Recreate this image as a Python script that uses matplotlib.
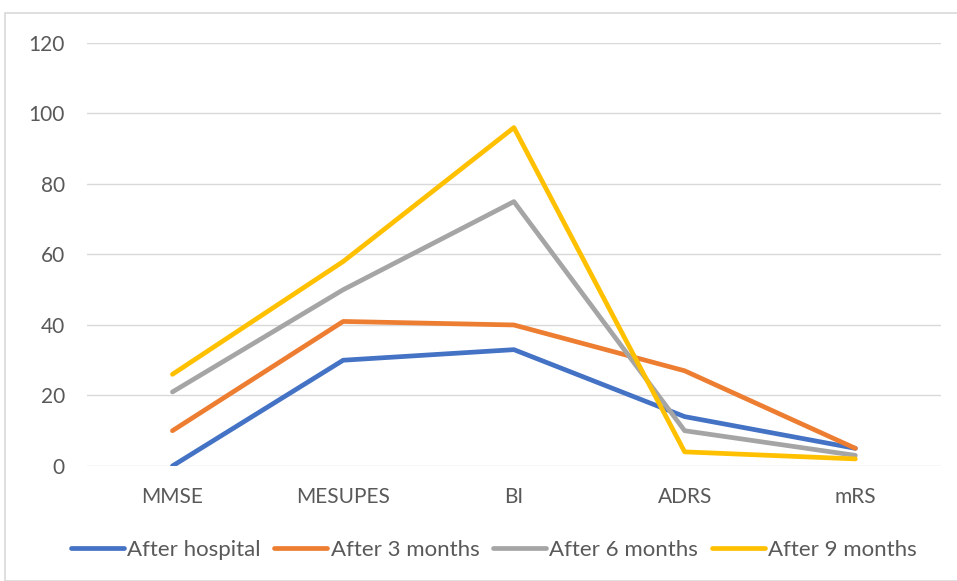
import matplotlib.pyplot as plt
from matplotlib.patches import Rectangle

categories = ["MMSE", "MESUPES", "BI", "ADRS", "mRS"]
after_hospital = [0, 30, 33, 14, 5]
after_3_months = [10, 41, 40, 27, 5]
after_6_months = [21, 50, 75, 10, 3]
after_9_months = [26, 58, 96, 4, 2]

series_names = ["After hospital", "After 3 months", "After 6 months", "After 9 months"]
series_colors = ["#4472C4", "#ED7D31", "#A5A5A5", "#FFC000"]

plt.rcParams["font.family"] = ["Lato", "DejaVu Sans"]

fig = plt.figure(figsize=(9.57, 5.81), dpi=100)
ax = fig.add_axes([0.091, 0.198, 0.892, 0.728])

# outer chart frame like the spreadsheet chart border
fig.patches.append(Rectangle((5 / 957, 0), 1, 1 - 13 / 581, transform=fig.transFigure,
                             fill=False, edgecolor="#D9D9D9", linewidth=1.2))

x = range(len(categories))
for values, name, color in zip([after_hospital, after_3_months, after_6_months, after_9_months],
                               series_names, series_colors):
    ax.plot(x, values, color=color, linewidth=3.4, label=name,
            solid_capstyle="round", solid_joinstyle="round")

ax.set_xlim(-0.5, len(categories) - 0.5)
ax.set_ylim(0, 120)
ax.set_yticks(range(0, 121, 20))
ax.set_xticks(list(x))
ax.set_xticklabels(categories)
ax.grid(axis="y", color="#D9D9D9", linewidth=1)
ax.set_axisbelow(True)
for side in ["top", "right", "left", "bottom"]:
    ax.spines[side].set_visible(False)
ax.tick_params(axis="both", length=0, labelsize=15, colors="#595959")
ax.tick_params(axis="x", pad=15)
ax.tick_params(axis="y", pad=16)

fig.legend(loc="center", bbox_to_anchor=(0.516, 0.053), ncol=4, frameon=False,
           fontsize=16, labelcolor="#595959", handlelength=2.4, handletextpad=0.15,
           columnspacing=0.6)

fig.savefig("out.png", dpi=100)
